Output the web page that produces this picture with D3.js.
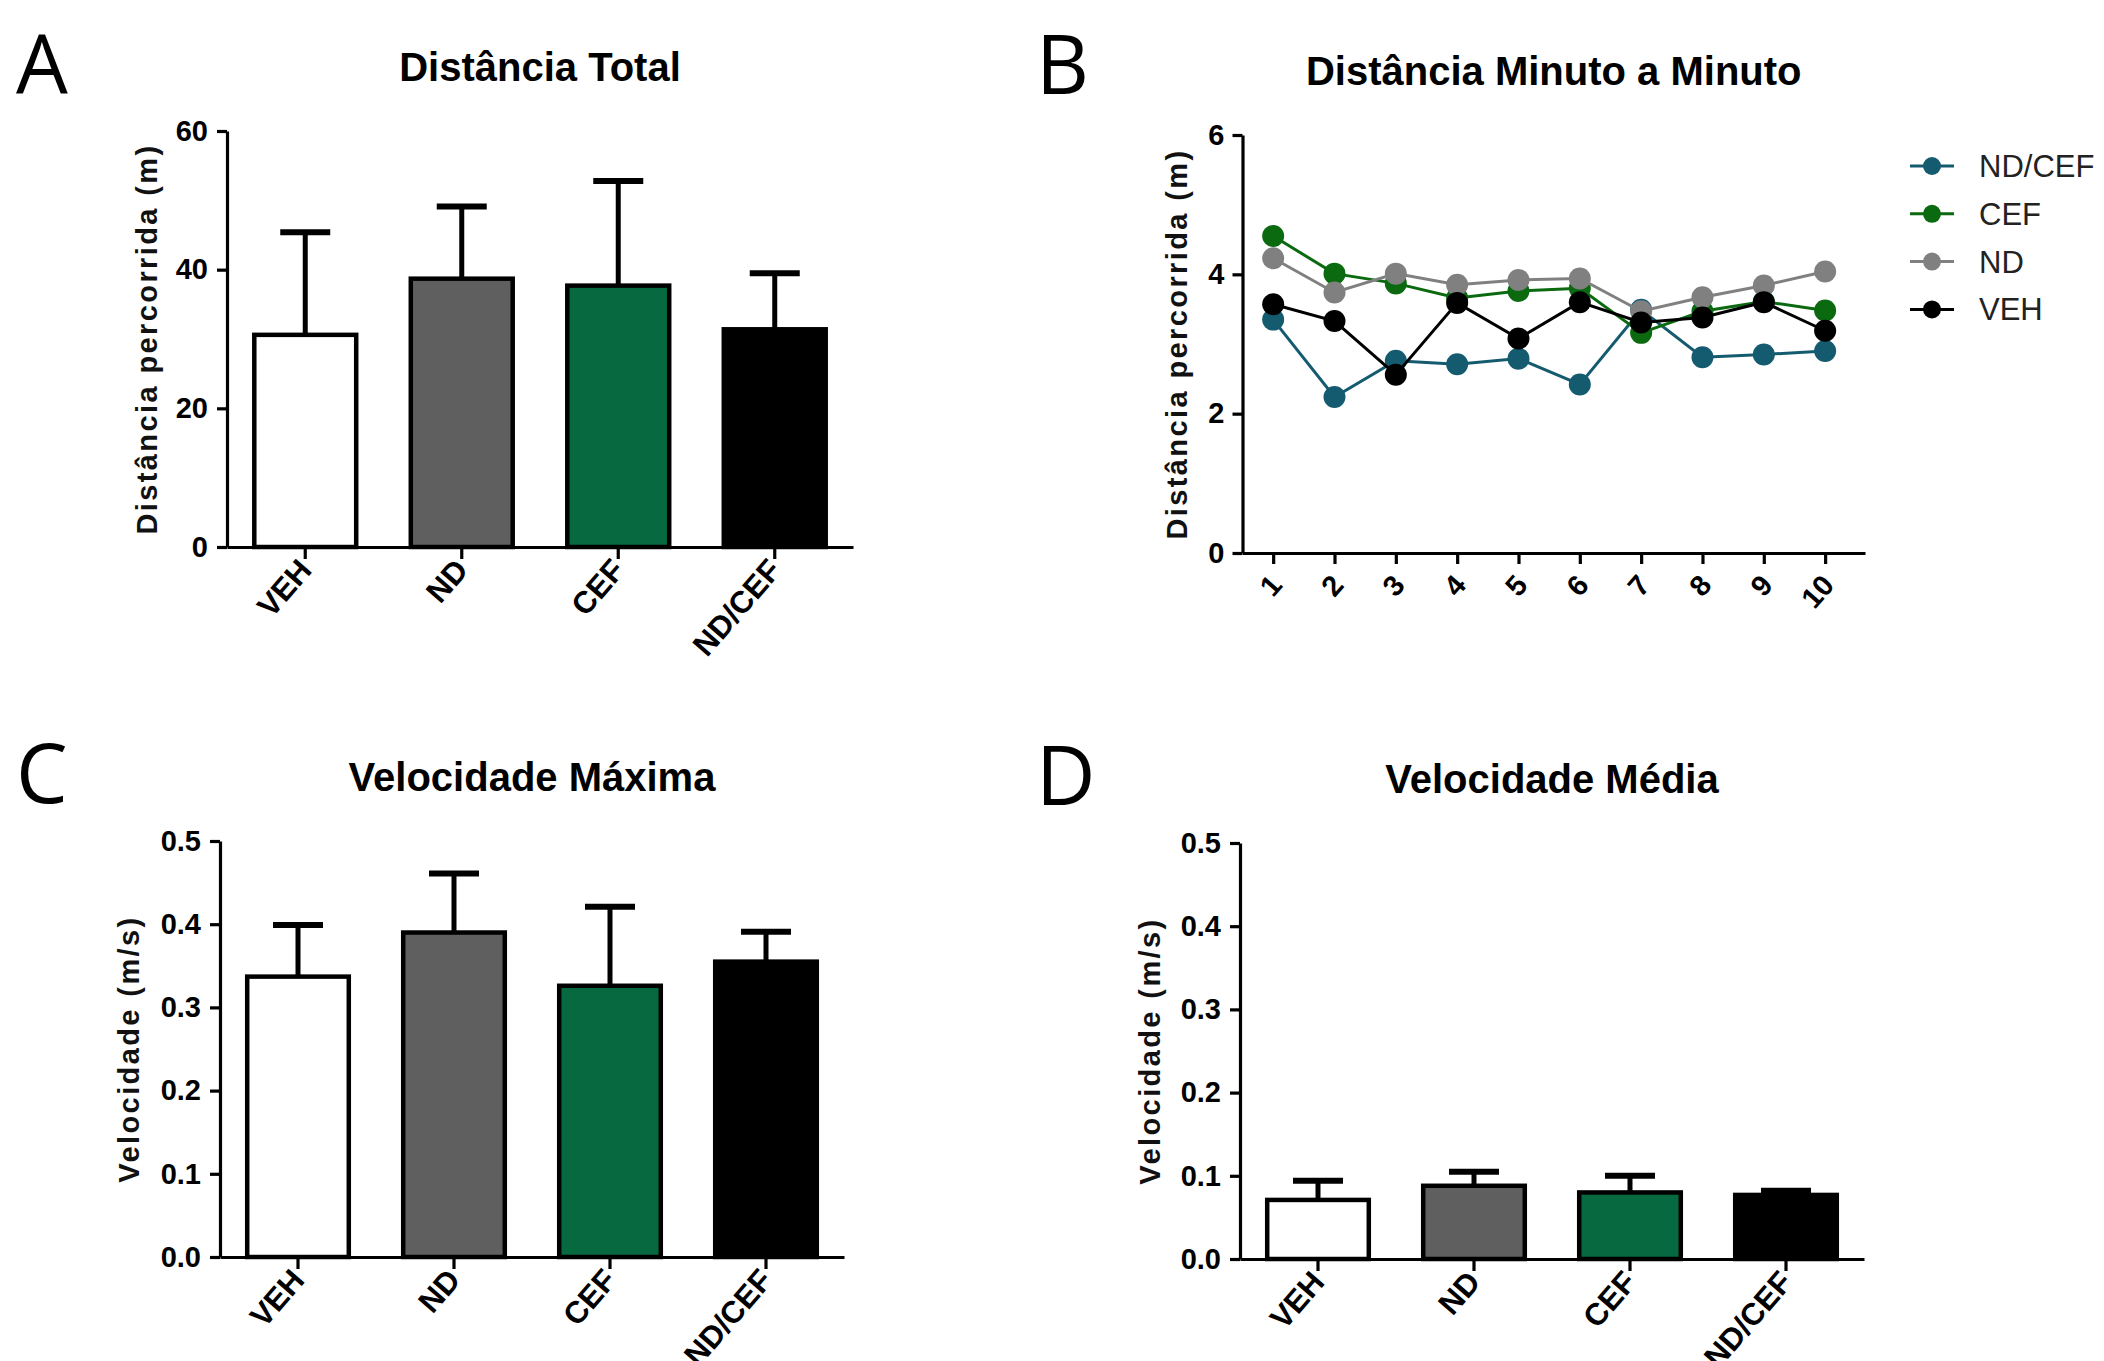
<!DOCTYPE html>
<html>
<head>
<meta charset="utf-8">
<script src="https://cdn.jsdelivr.net/npm/d3@7"></script>
<style>
  html, body { margin: 0; background: #fff; }
  text { font-family: "Liberation Sans", Arial, sans-serif; }
</style>
</head>
<body>
<svg id="fig" width="2104" height="1361"></svg>
<script>
// groups / colours
const groups = ["VEH", "ND", "CEF", "ND/CEF"];
const barFill = ["#ffffff", "#5f5f5f", "#07693f", "#000000"];

// A - distancia total (mean, sd)
const distTotalMean = [30.6, 38.7, 37.7, 31.4];
const distTotalSd   = [14.8, 10.4, 15.1, 8.1];
// C - velocidade maxima
const velMaxMean = [0.337, 0.390, 0.326, 0.355];
const velMaxSd   = [0.062, 0.071, 0.095, 0.036];
// D - velocidade media
const velMedMean = [0.071, 0.088, 0.080, 0.077];
const velMedSd   = [0.023, 0.017, 0.020, 0.005];

// B - minuto a minuto
const minutes = [1, 2, 3, 4, 5, 6, 7, 8, 9, 10];
const seriesNames  = ["ND/CEF", "CEF", "ND", "VEH"];
const seriesColors = ["#155b70", "#0b6a10", "#808080", "#000000"];
const minNDCEF = [3.35, 2.24, 2.76, 2.71, 2.79, 2.42, 3.49, 2.81, 2.85, 2.90];
const minCEF   = [4.55, 4.01, 3.87, 3.66, 3.76, 3.80, 3.16, 3.47, 3.61, 3.48];
const minND    = [4.23, 3.74, 4.01, 3.85, 3.92, 3.94, 3.47, 3.67, 3.84, 4.04];
const minVEH   = [3.57, 3.33, 2.56, 3.59, 3.08, 3.60, 3.31, 3.38, 3.60, 3.19];

const svg = d3.select("#fig");

function styleAxis(ax) {
  ax.selectAll(".domain").attr("stroke", "#000").attr("stroke-width", 3.2);
  ax.selectAll(".tick line").attr("stroke", "#000").attr("stroke-width", 3.2);
  ax.selectAll("text").attr("fill", "#000").attr("font-size", 29).attr("font-weight", "bold")
    .style("font-family", '"Liberation Sans", Arial, sans-serif');
}

function decorate(p) {
  // panel letter
  svg.append("text").attr("x", p.letterX).attr("y", p.letterY)
    .style("font-family", '"Open Sans", sans-serif')
    .attr("font-size", 82).attr("fill", "#000").text(p.letter);
  // title
  svg.append("text").attr("x", (p.x0 + p.x1) / 2).attr("y", p.yTop - 50)
    .attr("text-anchor", "middle").attr("font-size", 40).attr("font-weight", "bold")
    .text(p.title);
  // y label
  svg.append("text")
    .attr("transform", `translate(${p.x0 - p.labelOff},${(p.yTop + p.yBot) / 2}) rotate(-90)`)
    .attr("text-anchor", "middle").attr("font-size", 29).attr("font-weight", "bold")
    .attr("letter-spacing", 2.4).attr("fill", "#111")
    .text(p.ylabel);
}

function barPanel(p) {
  const g = svg.append("g");
  const sw = 4.5;
  const x = d3.scaleBand().domain(groups).range([p.x0, p.x1]).paddingInner(0.32).paddingOuter(0.16);
  const y = d3.scaleLinear().domain(p.domain).range([p.yBot, p.yTop]);
  const rows = groups.map((k, i) => ({ k, m: p.mean[i], sd: p.sd[i], fill: barFill[i] }));
  const cx = d => x(d.k) + x.bandwidth() / 2;

  g.selectAll("line.stem").data(rows).join("line").attr("class", "stem")
    .attr("x1", cx).attr("x2", cx)
    .attr("y1", d => y(d.m)).attr("y2", d => y(d.m + d.sd))
    .attr("stroke", "#000").attr("stroke-width", 5);
  g.selectAll("line.cap").data(rows).join("line").attr("class", "cap")
    .attr("x1", d => cx(d) - 25).attr("x2", d => cx(d) + 25)
    .attr("y1", d => y(d.m + d.sd)).attr("y2", d => y(d.m + d.sd))
    .attr("stroke", "#000").attr("stroke-width", 6);

  g.selectAll("rect").data(rows).join("rect")
    .attr("x", d => x(d.k) + sw / 2).attr("width", x.bandwidth() - sw)
    .attr("y", d => y(d.m)).attr("height", d => y(0) - y(d.m))
    .attr("fill", d => d.fill).attr("stroke", "#000").attr("stroke-width", sw);

  const ya = g.append("g").attr("transform", `translate(${p.x0},0)`)
    .call(d3.axisLeft(y).tickValues(p.ticks).tickFormat(p.fmt).tickSize(10).tickSizeOuter(0).tickPadding(9));
  styleAxis(ya);

  const xa = g.append("g").attr("transform", `translate(0,${p.yBot})`)
    .call(d3.axisBottom(x).tickSize(12).tickSizeOuter(0));
  styleAxis(xa);
  xa.selectAll("text").attr("x", 0).attr("y", 0).attr("dy", 0).attr("font-size", 31)
    .attr("text-anchor", "end").attr("transform", "translate(8,24) rotate(-49)");

  decorate(p);
}

function linePanel(p) {
  const g = svg.append("g");
  const x = d3.scaleLinear().domain([0.5, 10.65]).range([p.x0, p.x1]);
  const y = d3.scaleLinear().domain([0, 6]).range([p.yBot, p.yTop]);
  const vals = [minNDCEF, minCEF, minND, minVEH];
  const series = seriesNames.map((n, i) => ({ n, c: seriesColors[i], v: vals[i] }));
  const line = d3.line().x((d, i) => x(minutes[i])).y(d => y(d));

  const sg = g.selectAll("g.series").data(series).join("g").attr("class", "series");
  sg.append("path").attr("d", d => line(d.v)).attr("fill", "none")
    .attr("stroke", d => d.c).attr("stroke-width", 3);
  sg.selectAll("circle").data(d => d.v.map((v, i) => ({ v, i, c: d.c }))).join("circle")
    .attr("cx", d => x(minutes[d.i])).attr("cy", d => y(d.v)).attr("r", 11)
    .attr("fill", d => d.c);

  const ya = g.append("g").attr("transform", `translate(${p.x0},0)`)
    .call(d3.axisLeft(y).tickValues([0, 2, 4, 6]).tickFormat(d3.format("d"))
      .tickSize(10).tickSizeOuter(0).tickPadding(8));
  styleAxis(ya);
  const xa = g.append("g").attr("transform", `translate(0,${p.yBot})`)
    .call(d3.axisBottom(x).tickValues(minutes).tickFormat(d3.format("d")).tickSize(11).tickSizeOuter(0));
  styleAxis(xa);
  xa.selectAll("text").attr("x", 0).attr("y", 0).attr("dy", 0).attr("font-size", 29)
    .attr("text-anchor", "end").attr("transform", "translate(10,33) rotate(-49)");

  // legend
  const lg = svg.append("g").attr("transform", "translate(1910,166)");
  const li = lg.selectAll("g").data(series).join("g")
    .attr("transform", (d, i) => `translate(0,${i * 47.8})`);
  li.append("line").attr("x1", 0).attr("x2", 44).attr("stroke", d => d.c).attr("stroke-width", 3);
  li.append("circle").attr("cx", 22).attr("r", 9).attr("fill", d => d.c);
  li.append("text").attr("x", 69).attr("y", 11).attr("font-size", 31).attr("fill", "#222")
    .text(d => d.n);

  decorate(p);
}

barPanel({
  letter: "A", letterX: 16, letterY: 94,
  title: "Distância Total", ylabel: "Distância percorrida (m)", labelOff: 70,
  x0: 227, x1: 853, yTop: 131, yBot: 547,
  domain: [0, 60], ticks: [0, 20, 40, 60], fmt: d3.format("d"),
  mean: distTotalMean, sd: distTotalSd
});

linePanel({
  letter: "B", letterX: 1036, letterY: 94,
  title: "Distância Minuto a Minuto", ylabel: "Distância percorrida (m)", labelOff: 56,
  x0: 1242.5, x1: 1865, yTop: 135, yBot: 553
});

barPanel({
  letter: "C", letterX: 16, letterY: 803,
  title: "Velocidade Máxima", ylabel: "Velocidade (m/s)", labelOff: 81,
  x0: 220, x1: 844, yTop: 841, yBot: 1257,
  domain: [0, 0.5], ticks: [0, 0.1, 0.2, 0.3, 0.4, 0.5], fmt: d3.format(".1f"),
  mean: velMaxMean, sd: velMaxSd
});

barPanel({
  letter: "D", letterX: 1036, letterY: 805,
  title: "Velocidade Média", ylabel: "Velocidade (m/s)", labelOff: 80,
  x0: 1240, x1: 1864, yTop: 843, yBot: 1259,
  domain: [0, 0.5], ticks: [0, 0.1, 0.2, 0.3, 0.4, 0.5], fmt: d3.format(".1f"),
  mean: velMedMean, sd: velMedSd
});
</script>
</body>
</html>
